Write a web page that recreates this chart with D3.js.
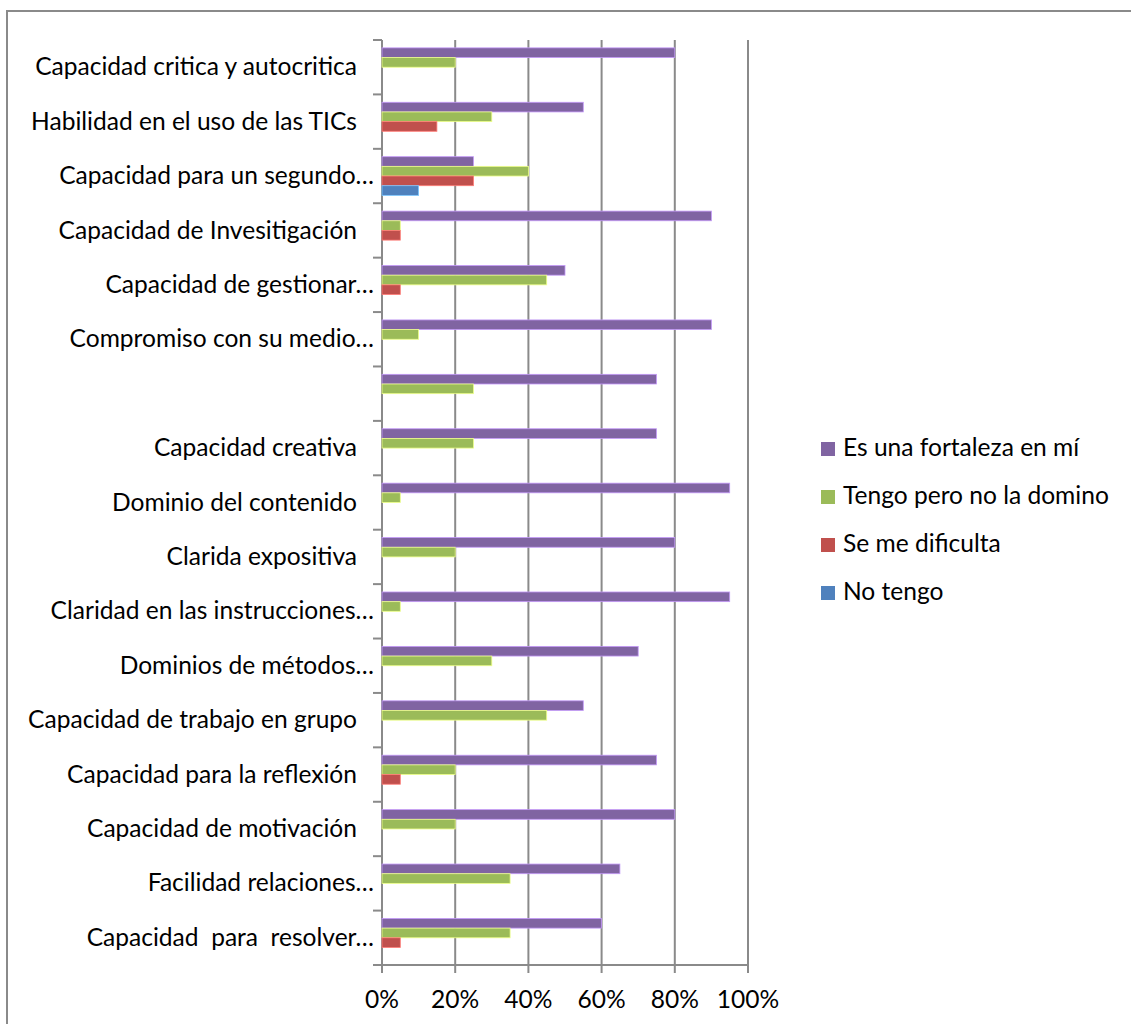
<!DOCTYPE html>
<html>
<head>
<meta charset="utf-8">
<script src="https://cdn.jsdelivr.net/npm/d3@7"></script>
<style>
	html, body { margin: 0; padding: 0; background: #fff; overflow: hidden; }
	svg { display: block; }
</style>
</head>
<body>
<div id="chart"></div>
<script>
// categories, top to bottom as they appear
const categories = [
	"Capacidad critica y autocritica",
	"Habilidad en el uso de las TICs",
	"Capacidad para un segundo…",
	"Capacidad de Invesitigación",
	"Capacidad de gestionar…",
	"Compromiso con su medio…",
	"",
	"Capacidad creativa",
	"Dominio del contenido",
	"Clarida expositiva",
	"Claridad en las instrucciones…",
	"Dominios de métodos…",
	"Capacidad de trabajo en grupo",
	"Capacidad para la reflexión",
	"Capacidad de motivación",
	"Facilidad relaciones…",
	"Capacidad  para  resolver…"
];

const seriesNames = ["Es una fortaleza en mí", "Tengo pero no la domino", "Se me dificulta", "No tengo"];
const seriesColors = ["#8064A2", "#9BBB59", "#C0504D", "#4F81BD"];

// values in percent, one per category
const fortaleza = [80, 55, 25, 90, 50, 90, 75, 75, 95, 80, 95, 70, 55, 75, 80, 65, 60];
const noDomino  = [20, 30, 40, 5, 45, 10, 25, 25, 5, 20, 5, 30, 45, 20, 20, 35, 35];
const dificulta = [0, 15, 25, 5, 5, 0, 0, 0, 0, 0, 0, 0, 0, 5, 0, 0, 5];
const noTengo   = [0, 0, 10, 0, 0, 0, 0, 0, 0, 0, 0, 0, 0, 0, 0, 0, 0];

const xTicks = [0, 20, 40, 60, 80, 100];

const WIDTH = 1131, HEIGHT = 1024;
const PLOT = { left: 382, right: 748, top: 40, bottom: 965 };
const GRID = "#8a8a8a";
const FONT = "Lato, 'Open Sans', sans-serif";

const seriesValues = [fortaleza, noDomino, dificulta, noTengo];

const svg = d3.select("#chart").append("svg")
	.attr("width", WIDTH)
	.attr("height", HEIGHT)
	.style("font-family", FONT);

// outer chart frame (runs off the right/bottom edge)
svg.append("rect")
	.attr("x", 7).attr("y", 11)
	.attr("width", 1140).attr("height", 1040)
	.attr("fill", "none")
	.attr("stroke", GRID)
	.attr("stroke-width", 2);

// size the font so the widest full label matches the reference (~322px)
const probe = svg.append("text").style("font-size", "100px").text(categories[0]);
const probeLen = probe.node().getComputedTextLength();
probe.remove();
const fontSize = 100 * 322 / probeLen;

const x = d3.scaleLinear().domain([0, 100]).range([PLOT.left, PLOT.right]);

const y = d3.scaleBand()
	.domain(d3.range(categories.length))
	.range([PLOT.top, PLOT.bottom])
	.paddingInner(0.289)
	.paddingOuter(0.1445);

const ySub = d3.scaleBand()
	.domain(d3.range(seriesNames.length))
	.range([0, y.bandwidth()]);

const step = y.step();
const bandStart = i => PLOT.top + i * step;

// vertical gridlines
svg.append("g")
	.selectAll("line")
	.data(xTicks)
	.join("line")
	.attr("x1", d => x(d)).attr("x2", d => x(d))
	.attr("y1", PLOT.top).attr("y2", PLOT.bottom + 8)
	.attr("stroke", GRID)
	.attr("stroke-width", 2);

// bottom axis line
svg.append("line")
	.attr("x1", PLOT.left - 9).attr("x2", PLOT.right + 1)
	.attr("y1", PLOT.bottom).attr("y2", PLOT.bottom)
	.attr("stroke", GRID)
	.attr("stroke-width", 2);

// category tick marks at band boundaries
svg.append("g")
	.selectAll("line")
	.data(d3.range(categories.length))
	.join("line")
	.attr("x1", PLOT.left - 9).attr("x2", PLOT.left)
	.attr("y1", d => bandStart(d)).attr("y2", d => bandStart(d))
	.attr("stroke", GRID)
	.attr("stroke-width", 2);

// bars
const rows = categories.map((c, i) => ({ i, vals: seriesValues.map(s => s[i]) }));
const group = svg.append("g")
	.selectAll("g")
	.data(rows)
	.join("g")
	.attr("transform", d => `translate(0,${y(d.i)})`);

group.selectAll("rect")
	.data(d => d.vals.map((v, s) => ({ v, s })).filter(d => d.v > 0))
	.join("rect")
	.attr("x", x(0))
	.attr("y", d => ySub(d.s))
	.attr("width", d => x(d.v) - x(0))
	.attr("height", ySub.bandwidth())
	.attr("fill", d => seriesColors[d.s])
	.attr("stroke", d => d3.color(seriesColors[d.s]).brighter(1.2))
	.attr("stroke-width", 0.8);

// category labels
svg.append("g")
	.selectAll("text")
	.data(categories)
	.join("text")
	.attr("x", d => d.endsWith("…") ? 374 : 357)
	.attr("y", (d, i) => bandStart(i) + step / 2)
	.attr("dy", "0.33em")
	.attr("text-anchor", "end")
	.style("font-size", fontSize + "px")
	.style("white-space", "pre")
	.attr("fill", "#000")
	.text(d => d);

// x tick labels
svg.append("g")
	.selectAll("text")
	.data(xTicks)
	.join("text")
	.attr("x", d => x(d))
	.attr("y", 1008)
	.attr("text-anchor", "middle")
	.style("font-size", fontSize + "px")
	.attr("fill", "#000")
	.text(d => d + "%");

// legend
const legend = svg.append("g")
	.selectAll("g")
	.data(seriesNames)
	.join("g")
	.attr("transform", (d, i) => `translate(821,${442 + i * 48})`);

legend.append("rect")
	.attr("width", 14).attr("height", 14)
	.attr("fill", (d, i) => seriesColors[i]);

legend.append("text")
	.attr("x", 22)
	.attr("y", 14)
	.style("font-size", fontSize + "px")
	.attr("fill", "#000")
	.text(d => d);
</script>
</body>
</html>
